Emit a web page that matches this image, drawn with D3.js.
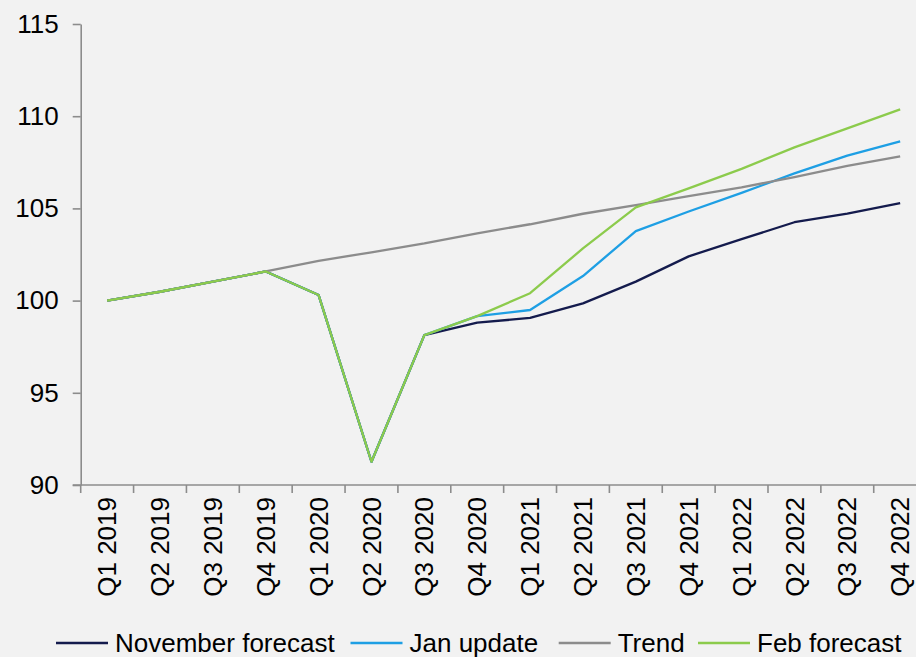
<!DOCTYPE html>
<html>
<head>
<meta charset="utf-8">
<script src="https://cdn.jsdelivr.net/npm/d3@7"></script>
<style>
  html, body { margin: 0; padding: 0; background: #f2f2f2; }
  svg { display: block; font-family: "Liberation Sans", Arial, sans-serif; }
</style>
</head>
<body>
<div class="wrap-chart"></div>
<script>
var
  width = 916,
  height = 657,
  plotLeft = 80.7,
  plotRight = 926.6,
  plotTop = 24,
  plotBottom = 485,
  fontSize = 26,
  legendStarts = [56, 350.5, 558.7, 698],
  legendY = 643;

var quarters = ["Q1 2019", "Q2 2019", "Q3 2019", "Q4 2019",
  "Q1 2020", "Q2 2020", "Q3 2020", "Q4 2020",
  "Q1 2021", "Q2 2021", "Q3 2021", "Q4 2021",
  "Q1 2022", "Q2 2022", "Q3 2022", "Q4 2022"];

var novemberForecast = [100, 100.48, 101.03, 101.58, 100.3, 91.26, 98.13, 98.8, 99.06, 99.85, 101.03, 102.4, 103.33, 104.25, 104.72, 105.28];
var janUpdate = [100, 100.48, 101.03, 101.58, 100.3, 91.26, 98.13, 99.16, 99.49, 101.33, 103.77, 104.83, 105.84, 106.9, 107.86, 108.63];
var trend = [100, 100.48, 101.03, 101.58, 102.16, 102.62, 103.1, 103.65, 104.14, 104.71, 105.18, 105.67, 106.14, 106.7, 107.3, 107.82];
var febForecast = [100, 100.48, 101.03, 101.58, 100.3, 91.26, 98.13, 99.16, 100.4, 102.83, 105.06, 106.09, 107.14, 108.31, 109.34, 110.37];

var yTicks = [90, 95, 100, 105, 110, 115];

var series = [
  { name: "November forecast", values: novemberForecast, color: "#141b4d" },
  { name: "Jan update", values: janUpdate, color: "#1e9fe4" },
  { name: "Trend", values: trend, color: "#8c8c8c" },
  { name: "Feb forecast", values: febForecast, color: "#8ccb4c" }
];

var axisColor = "#8c8c8c";

var svg = d3.select(".wrap-chart")
  .append("svg")
  .attr("width", width)
  .attr("height", height);

svg.append("rect")
  .attr("width", width)
  .attr("height", height)
  .attr("fill", "#f2f2f2");

var x = d3.scaleBand()
  .domain(quarters)
  .range([plotLeft, plotRight]);

var y = d3.scaleLinear()
  .domain([90, 115])
  .range([plotBottom, plotTop]);

// y axis
var yAxis = svg.append("g")
  .attr("transform", "translate(" + plotLeft + ",0)")
  .call(d3.axisLeft(y).tickValues(yTicks).tickSize(8).tickPadding(14).tickSizeOuter(0));

yAxis.select(".domain").attr("stroke", axisColor).attr("stroke-width", 1.6);
yAxis.selectAll(".tick line").attr("stroke", axisColor).attr("stroke-width", 1.6);
yAxis.selectAll(".tick text")
  .attr("fill", "#000")
  .style("font-size", fontSize + "px")
  .style("font-family", "Liberation Sans, Arial, sans-serif");

// x axis, ticks between categories
var xAxis = svg.append("g")
  .attr("transform", "translate(0," + plotBottom + ")");

xAxis.append("line")
  .attr("x1", plotLeft - 8)
  .attr("x2", plotRight)
  .attr("stroke", axisColor)
  .attr("stroke-width", 1.6);

xAxis.selectAll(".xtick")
  .data(quarters)
  .enter()
  .append("line")
  .attr("class", "xtick")
  .attr("x1", function (d) { return x(d); })
  .attr("x2", function (d) { return x(d); })
  .attr("y1", 0)
  .attr("y2", 8)
  .attr("stroke", axisColor)
  .attr("stroke-width", 1.6);

xAxis.selectAll(".xlabel")
  .data(quarters)
  .enter()
  .append("text")
  .attr("class", "xlabel")
  .attr("transform", function (d) {
    return "translate(" + (x(d) + x.bandwidth() / 2) + ",12) rotate(-90)";
  })
  .attr("dy", "0.35em")
  .attr("text-anchor", "end")
  .style("font-size", fontSize + "px")
  .attr("fill", "#000")
  .text(function (d) { return d; });

// lines
var line = d3.line()
  .x(function (d, i) { return x(quarters[i]) + x.bandwidth() / 2; })
  .y(function (d) { return y(d); });

svg.selectAll(".series")
  .data(series)
  .enter()
  .append("path")
  .attr("class", "series")
  .attr("fill", "none")
  .attr("stroke", function (d) { return d.color; })
  .attr("stroke-width", 2.3)
  .attr("stroke-linejoin", "round")
  .attr("d", function (d) { return line(d.values); });

// legend
var legend = svg.append("g").attr("class", "legend");
series.forEach(function (s, i) {
  var lx = legendStarts[i];
  legend.append("line")
    .attr("x1", lx)
    .attr("x2", lx + 52)
    .attr("y1", legendY)
    .attr("y2", legendY)
    .attr("stroke", s.color)
    .attr("stroke-width", 2.3);
  legend.append("text")
    .attr("x", lx + 59)
    .attr("y", legendY)
    .attr("dy", "0.35em")
    .style("font-size", fontSize + "px")
    .attr("fill", "#000")
    .text(s.name);
});
</script>
</body>
</html>
